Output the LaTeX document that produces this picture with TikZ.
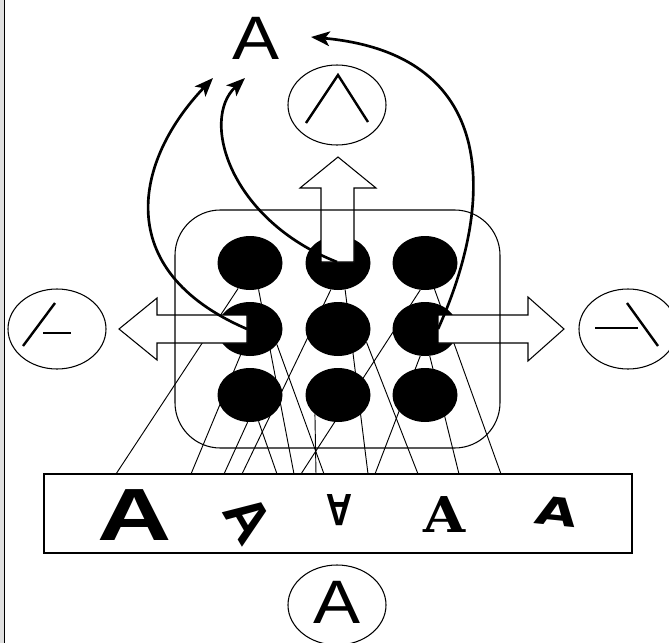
\documentclass[tikz,border=0pt]{standalone}
\usepackage{fontspec}
\setmainfont{Liberation Sans}
\newfontfamily\slabfont{DejaVu Serif}
\newfontfamily\dejafont{DejaVu Sans}
\usetikzlibrary{arrows.meta,shapes.geometric}
\tikzset{
  unit/.style={ellipse,fill=black,inner sep=0pt,minimum width=48.75pt,minimum height=40.5pt},
  feature/.style={ellipse,draw,line width=.8pt,inner sep=0pt,minimum width=73.5pt,minimum height=60pt},
  blockarrow/.style={draw,fill=white,line width=.8pt},
  link/.style={line width=.7pt},
  loopback/.style={line width=2pt,-{Stealth[length=14pt,width=11pt,inset=3.5pt]}},
  stroke/.style={line width=1.8pt},
  letter/.style={inner sep=0pt}
}
\newcommand{\bigA}{\fontsize{46}{46}\selectfont}
\begin{document}
\begin{tikzpicture}[x=.75pt,y=-.75pt]
  \useasboundingbox (0,0) rectangle (669,643);
  \fill[black!12](0,0)rectangle(4,643);
  \draw[line width=.8pt](4.5,0)--(4.5,643);
  % hidden units
  \foreach \c/\x in {1/250,2/338,3/425}
    \foreach \r/\y in {1/263,2/329,3/395}
      \node[unit](n\c\r)at(\x,\y){};
  % input strip
  \node[draw,line width=1.5pt,inner sep=0pt,minimum width=441pt,minimum height=59.25pt](input)at(338,513.5){};
  \foreach \i/\x in {1/116,2/191,3/224,4/242,5/277,6/294,7/301,8/316,9/324,10/368,11/375,12/418,13/459,14/501}
    \coordinate(p\i)at(\x,474);
  \draw[link](n11.-115)--(p1);
  \draw[link](n11.-72)--(p6);
  \draw[link](n12.-110)--(p2);
  \draw[link](n12.-30)--(p9);
  \draw[link](n13.-95)--(p3);
  \draw[link](n13.-72)--(p5);
  \draw[link](n21.-105)--(p4);
  \draw[link](n21.-75)--(p10);
  \draw[link](n22.-25)--(p12);
  \draw[link](n23.-140)--(p8);
  \draw[link](n31.-100)--(p7);
  \draw[link](n31.-70)--(p14);
  \draw[link](n32.-80)--(p13);
  \draw[link](n32.-100)--(p11);
  % block arrows
  \draw[blockarrow](321,262)--(321,188)--(300,188)--(338,157)--(376,188)--(354,188)--(354,262)--cycle;
  \draw[blockarrow](247,315)--(157,315)--(157,298)--(119,329)--(157,360)--(157,343)--(247,343)--cycle;
  \draw[blockarrow](438,315)--(528,315)--(528,297)--(564,329)--(528,361)--(528,343)--(438,343)--cycle;
  \draw[line width=.8pt,rounded corners=34pt](175,210)rectangle(500,448);
  % features
  \node[feature](fup)at(337,105){};
  \node[feature](fleft)at(57,329){};
  \node[feature](fright)at(628,329){};
  \node[feature](fin)at(337,605){};
  \draw[stroke](306,123)--(338,75)--(368,122);
  \draw[stroke](23,346)--(55,303);
  \draw[stroke](43,333)--(71,333);
  \draw[stroke](595,328)--(638,328);
  \draw[stroke](627,303)--(658,346);
  \node[letter,font=\bigA,xscale=1.15,anchor=base](ain)at(337,623){A};
  % output and loops
  \node[letter,font=\bigA,xscale=1.15,anchor=base](out)at(256,59){A};
  \coordinate(lc)at(247,329);
  \coordinate(uc)at(337,262);
  \coordinate(rc)at(438,329);
  \coordinate(t1)at(213,78);
  \coordinate(t2)at(245,78);
  \coordinate(t3)at(311,37);
  \draw[loopback](lc)..controls(110,270)and(135,160)..(t1);
  \draw[loopback](uc)..controls(230,220)and(200,120)..(t2);
  \draw[loopback](rc)..controls(492,210)and(505,55)..(t3);
  % input letters
  \node[letter,font=\bfseries\fontsize{55.5}{55.5}\selectfont,xscale=1.39,anchor=base](a1)at(135,540){A};
  \node[letter,font=\bfseries\fontsize{46}{46}\selectfont,xscale=.9,rotate=-57](a2)at(248,519){A};
  \node[letter,font=\bfseries\fontsize{34}{34}\selectfont,xscale=.8,rotate=180](a3)at(339,510){A};
  \node[letter,font=\slabfont\bfseries\fontsize{37}{37}\selectfont,xscale=1.1,anchor=base](a4)at(445,532){A};
  \node[letter,font=\dejafont\bfseries\fontsize{29}{29}\selectfont,xscale=1.4,rotate=-8](a5)at(557,512){A};
\end{tikzpicture}
\end{document}
